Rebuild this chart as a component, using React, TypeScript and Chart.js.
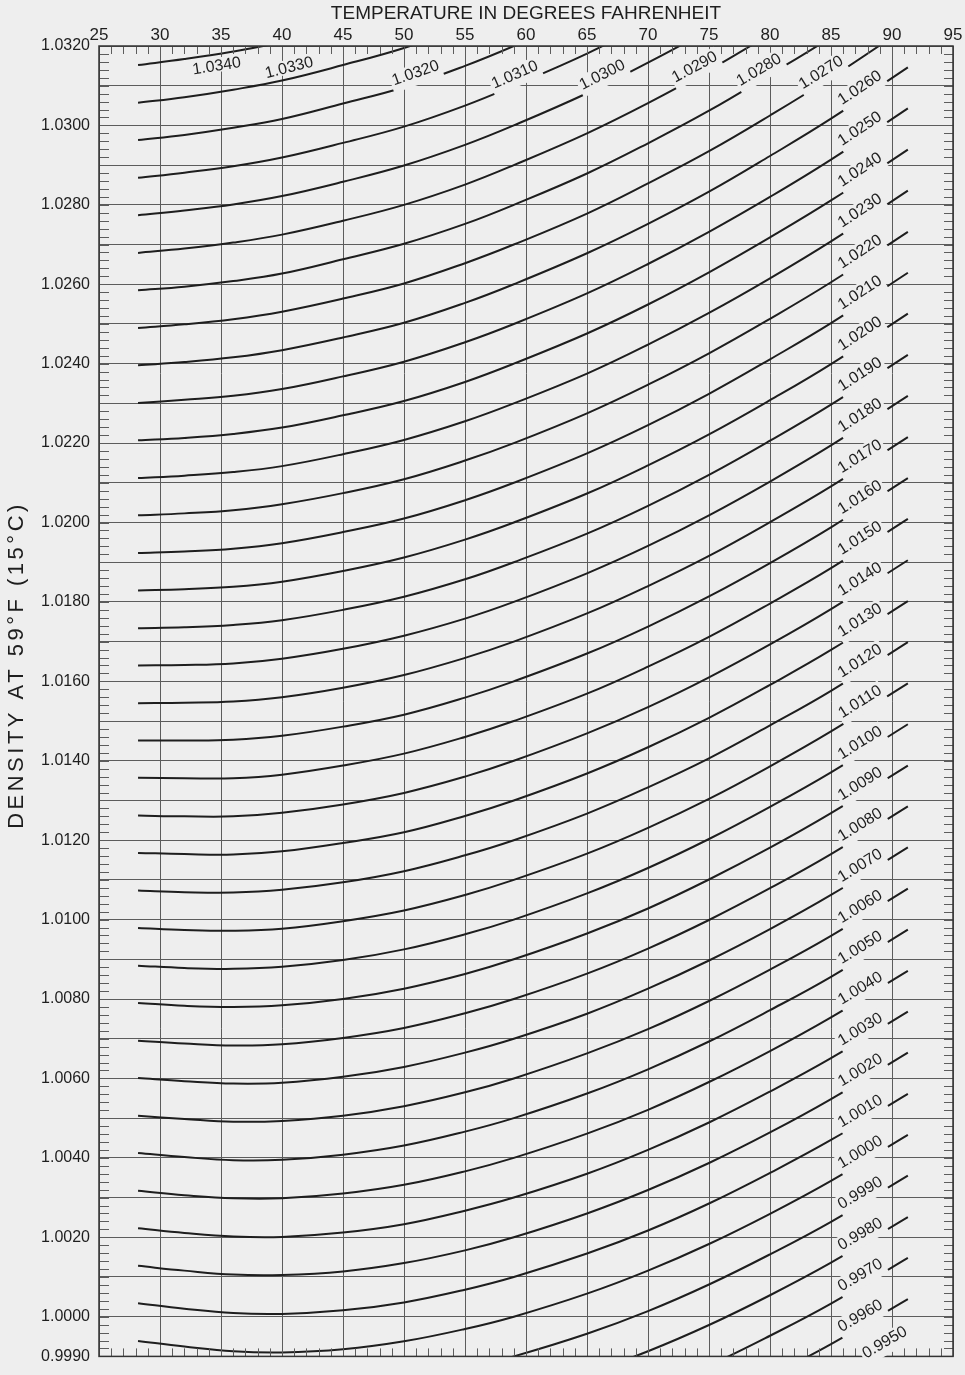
import React, { useEffect, useRef } from 'react';
import { Chart, registerables } from 'chart.js';

Chart.register(...registerables);

const FONT = '"Liberation Sans", Arial, Helvetica, sans-serif';
const PAPER = '#eeeeee';
const INK = '#1e1e1e';
const GRID = '#5c5c5c';

// Temperatures (°F) at which each curve was read
const temperatures = [28.2, 32, 36, 40, 45, 50, 55, 59, 65, 70, 75, 80, 85, 91.3];

// Curve labels (observed hydrometer reading)
const readings = [
  '1.0340', '1.0330', '1.0320', '1.0310', '1.0300', '1.0290', '1.0280', '1.0270',
  '1.0260', '1.0250', '1.0240', '1.0230', '1.0220', '1.0210', '1.0200', '1.0190',
  '1.0180', '1.0170', '1.0160', '1.0150', '1.0140', '1.0130', '1.0120', '1.0110',
  '1.0100', '1.0090', '1.0080', '1.0070', '1.0060', '1.0050', '1.0040', '1.0030',
  '1.0020', '1.0010', '1.0000', '0.9990', '0.9980', '0.9970', '0.9960', '0.9950',
];

// Density at 59°F, one row per reading, one column per temperature
const densityCurves = [
  [1.03152, 1.03167, 1.03186, 1.03210, 1.03250, 1.03293, 1.03349, 1.03400, 1.03484, 1.03563, 1.03649, 1.03742, 1.03840, 1.03973],
  [1.03057, 1.03071, 1.03090, 1.03113, 1.03152, 1.03195, 1.03249, 1.03300, 1.03383, 1.03462, 1.03547, 1.03640, 1.03737, 1.03870],
  [1.02963, 1.02976, 1.02994, 1.03016, 1.03055, 1.03096, 1.03150, 1.03200, 1.03282, 1.03360, 1.03445, 1.03537, 1.03634, 1.03766],
  [1.02868, 1.02881, 1.02897, 1.02919, 1.02956, 1.02997, 1.03050, 1.03100, 1.03181, 1.03259, 1.03343, 1.03435, 1.03531, 1.03663],
  [1.02774, 1.02786, 1.02801, 1.02822, 1.02858, 1.02899, 1.02951, 1.03000, 1.03081, 1.03158, 1.03241, 1.03332, 1.03428, 1.03559],
  [1.02679, 1.02690, 1.02705, 1.02725, 1.02760, 1.02800, 1.02851, 1.02900, 1.02980, 1.03056, 1.03139, 1.03230, 1.03325, 1.03456],
  [1.02585, 1.02594, 1.02608, 1.02627, 1.02663, 1.02702, 1.02752, 1.02800, 1.02879, 1.02955, 1.03037, 1.03128, 1.03222, 1.03353],
  [1.02490, 1.02499, 1.02512, 1.02531, 1.02564, 1.02602, 1.02653, 1.02700, 1.02778, 1.02854, 1.02935, 1.03025, 1.03120, 1.03249],
  [1.02396, 1.02404, 1.02416, 1.02434, 1.02466, 1.02503, 1.02553, 1.02600, 1.02678, 1.02752, 1.02833, 1.02923, 1.03017, 1.03146],
  [1.02301, 1.02309, 1.02319, 1.02336, 1.02368, 1.02405, 1.02454, 1.02500, 1.02577, 1.02651, 1.02732, 1.02820, 1.02914, 1.03043],
  [1.02207, 1.02213, 1.02223, 1.02239, 1.02270, 1.02306, 1.02354, 1.02400, 1.02476, 1.02549, 1.02630, 1.02718, 1.02811, 1.02939],
  [1.02112, 1.02118, 1.02127, 1.02142, 1.02172, 1.02208, 1.02255, 1.02300, 1.02375, 1.02448, 1.02528, 1.02615, 1.02708, 1.02836],
  [1.02018, 1.02023, 1.02031, 1.02046, 1.02074, 1.02109, 1.02156, 1.02200, 1.02275, 1.02347, 1.02426, 1.02513, 1.02605, 1.02732],
  [1.01923, 1.01927, 1.01934, 1.01948, 1.01976, 1.02010, 1.02056, 1.02100, 1.02174, 1.02245, 1.02324, 1.02411, 1.02502, 1.02629],
  [1.01829, 1.01832, 1.01838, 1.01851, 1.01878, 1.01912, 1.01957, 1.02000, 1.02073, 1.02144, 1.02222, 1.02308, 1.02399, 1.02526],
  [1.01734, 1.01736, 1.01742, 1.01754, 1.01780, 1.01813, 1.01857, 1.01900, 1.01972, 1.02042, 1.02120, 1.02206, 1.02297, 1.02422],
  [1.01640, 1.01641, 1.01645, 1.01657, 1.01682, 1.01715, 1.01758, 1.01800, 1.01872, 1.01941, 1.02018, 1.02103, 1.02194, 1.02319],
  [1.01545, 1.01546, 1.01549, 1.01560, 1.01584, 1.01616, 1.01659, 1.01700, 1.01771, 1.01840, 1.01916, 1.02001, 1.02091, 1.02215],
  [1.01451, 1.01451, 1.01453, 1.01463, 1.01486, 1.01516, 1.01559, 1.01600, 1.01670, 1.01738, 1.01814, 1.01898, 1.01988, 1.02112],
  [1.01357, 1.01356, 1.01356, 1.01365, 1.01388, 1.01418, 1.01460, 1.01500, 1.01569, 1.01637, 1.01712, 1.01796, 1.01885, 1.02009],
  [1.01262, 1.01260, 1.01260, 1.01269, 1.01290, 1.01319, 1.01360, 1.01400, 1.01469, 1.01535, 1.01610, 1.01693, 1.01782, 1.01905],
  [1.01168, 1.01165, 1.01164, 1.01172, 1.01193, 1.01220, 1.01261, 1.01300, 1.01368, 1.01434, 1.01508, 1.01591, 1.01679, 1.01802],
  [1.01073, 1.01069, 1.01068, 1.01075, 1.01094, 1.01122, 1.01162, 1.01200, 1.01267, 1.01333, 1.01406, 1.01489, 1.01576, 1.01699],
  [1.00979, 1.00974, 1.00972, 1.00977, 1.00996, 1.01023, 1.01062, 1.01100, 1.01166, 1.01231, 1.01304, 1.01386, 1.01474, 1.01595],
  [1.00884, 1.00878, 1.00876, 1.00881, 1.00898, 1.00925, 1.00963, 1.01000, 1.01066, 1.01130, 1.01203, 1.01284, 1.01371, 1.01492],
  [1.00790, 1.00783, 1.00780, 1.00784, 1.00800, 1.00826, 1.00863, 1.00900, 1.00965, 1.01028, 1.01101, 1.01181, 1.01268, 1.01388],
  [1.00695, 1.00688, 1.00683, 1.00686, 1.00702, 1.00727, 1.00764, 1.00800, 1.00864, 1.00927, 1.00999, 1.01079, 1.01165, 1.01285],
  [1.00601, 1.00593, 1.00587, 1.00589, 1.00604, 1.00629, 1.00665, 1.00700, 1.00763, 1.00826, 1.00897, 1.00976, 1.01062, 1.01182],
  [1.00506, 1.00498, 1.00491, 1.00493, 1.00506, 1.00530, 1.00565, 1.00600, 1.00663, 1.00724, 1.00795, 1.00874, 1.00959, 1.01078],
  [1.00412, 1.00402, 1.00394, 1.00395, 1.00408, 1.00431, 1.00466, 1.00500, 1.00562, 1.00623, 1.00693, 1.00772, 1.00856, 1.00975],
  [1.00317, 1.00306, 1.00298, 1.00298, 1.00310, 1.00332, 1.00366, 1.00400, 1.00461, 1.00521, 1.00591, 1.00669, 1.00754, 1.00871],
  [1.00223, 1.00211, 1.00202, 1.00201, 1.00212, 1.00233, 1.00267, 1.00300, 1.00360, 1.00420, 1.00489, 1.00567, 1.00651, 1.00768],
  [1.00128, 1.00116, 1.00106, 1.00105, 1.00114, 1.00135, 1.00167, 1.00200, 1.00260, 1.00319, 1.00387, 1.00464, 1.00548, 1.00665],
  [1.00034, 1.00020, 1.00009, 1.00007, 1.00016, 1.00036, 1.00068, 1.00100, 1.00159, 1.00217, 1.00285, 1.00362, 1.00445, 1.00561],
  [0.99939, 0.99925, 0.99913, 0.99910, 0.99918, 0.99938, 0.99969, 1.00000, 1.00058, 1.00116, 1.00183, 1.00259, 1.00342, 1.00458],
  [0.99845, 0.99830, 0.99817, 0.99813, 0.99820, 0.99839, 0.99869, 0.99900, 0.99957, 1.00014, 1.00081, 1.00157, 1.00239, 1.00355],
  [0.99750, 0.99735, 0.99721, 0.99716, 0.99722, 0.99740, 0.99770, 0.99800, 0.99857, 0.99913, 0.99979, 1.00054, 1.00136, 1.00251],
  [0.99656, 0.99640, 0.99625, 0.99620, 0.99625, 0.99642, 0.99670, 0.99700, 0.99756, 0.99812, 0.99877, 0.99952, 1.00033, 1.00148],
  [0.99561, 0.99544, 0.99529, 0.99523, 0.99527, 0.99543, 0.99571, 0.99600, 0.99655, 0.99710, 0.99775, 0.99850, 0.99931, 1.00044],
  [0.99467, 0.99449, 0.99433, 0.99426, 0.99429, 0.99445, 0.99472, 0.99500, 0.99554, 0.99609, 0.99674, 0.99747, 0.99828, 0.99941],
];

// Temperature (°F) at which each curve's label sits
const labelTemps = [
  34.5, 40.8, 51.2, 59.4, 66.6, 74.2, 79.5, 84.6,
  87.8, 87.8, 87.8, 87.8, 87.8, 87.8, 87.8, 87.8,
  87.8, 87.8, 87.8, 87.8, 87.8, 87.8, 87.8, 87.8,
  87.8, 87.8, 87.8, 87.8, 87.8, 87.8, 87.8, 87.8,
  87.8, 87.8, 87.8, 87.8, 87.8, 87.8, 87.8, 89.8,
];
// 'below': under the curve; 'beside': above without breaking the curve; others break the curve
const labelPlacement = ['below', 'beside'];

const yTickValues = [
  0.999, 1.000, 1.001, 1.002, 1.003, 1.004, 1.005, 1.006, 1.007, 1.008, 1.009,
  1.010, 1.011, 1.012, 1.013, 1.014, 1.015, 1.016, 1.017, 1.018, 1.019,
  1.020, 1.021, 1.022, 1.023, 1.024, 1.025, 1.026, 1.027, 1.028, 1.029,
  1.030, 1.031, 1.032,
];
const yLabelValues = [
  0.999, 1.000, 1.002, 1.004, 1.006, 1.008, 1.010, 1.012, 1.014, 1.016,
  1.018, 1.020, 1.022, 1.024, 1.026, 1.028, 1.030, 1.032,
];

const Y_TITLE = 'DENSITY AT 59°F (15°C)';

const decorPlugin = {
  id: 'decor',
  beforeDraw(chart: any) {
    const { ctx, width, height } = chart;
    ctx.save();
    ctx.fillStyle = PAPER;
    ctx.fillRect(0, 0, width, height);
    ctx.restore();
  },
  afterDatasetsDraw(chart: any) {
    const { ctx, chartArea: a } = chart;
    const xs = chart.scales.x;
    const ys = chart.scales.y;
    ctx.save();
    // minor tick marks on the frame
    ctx.strokeStyle = GRID;
    ctx.lineWidth = 1;
    ctx.beginPath();
    for (let t = 25; t <= 95; t++) {
      const px = Math.round(xs.getPixelForValue(t)) + 0.5;
      ctx.moveTo(px, a.top);
      ctx.lineTo(px, a.top + 8);
      ctx.moveTo(px, a.bottom);
      ctx.lineTo(px, a.bottom - 8);
    }
    for (let k = 0; k <= 165; k++) {
      const py = Math.round(ys.getPixelForValue(0.999 + k * 0.0002)) + 0.5;
      ctx.moveTo(a.left, py);
      ctx.lineTo(a.left + 10, py);
      ctx.moveTo(a.right, py);
      ctx.lineTo(a.right - 9, py);
    }
    ctx.stroke();
    ctx.strokeStyle = '#333';
    ctx.lineWidth = 1.5;
    ctx.strokeRect(a.left, a.top, a.right - a.left, a.bottom - a.top);

    // curve labels
    ctx.font = `16px ${FONT}`;
    const cap = 11.5;
    const n = temperatures.length;
    densityCurves.forEach((row, i) => {
      const t = labelTemps[i];
      let k = 0;
      while (k < n - 2 && temperatures[k + 1] <= t) k++;
      const f = (t - temperatures[k]) / (temperatures[k + 1] - temperatures[k]);
      const v = row[k] + f * (row[k + 1] - row[k]);
      const px = xs.getPixelForValue(t);
      const py = ys.getPixelForValue(v);
      const dx = xs.getPixelForValue(temperatures[k + 1]) - xs.getPixelForValue(temperatures[k]);
      const dy = ys.getPixelForValue(row[k + 1]) - ys.getPixelForValue(row[k]);
      const ang = Math.atan2(dy, dx);
      const text = readings[i];
      const w = ctx.measureText(text).width;
      const place = labelPlacement[i] || 'inline';
      ctx.save();
      ctx.translate(px, py);
      ctx.rotate(ang);
      ctx.fillStyle = PAPER;
      let base: number;
      if (place === 'below') {
        base = 16.5;
        ctx.fillRect(-w / 2 - 1, base - cap - 1.5, w + 2, cap + 3);
      } else if (place === 'beside') {
        base = -6;
        ctx.fillRect(-w / 2 - 1, base - cap - 1.5, w + 2, cap + 3);
      } else {
        base = -5;
        ctx.fillRect(-w / 2 - 2, base - cap - 2, w + 4, -base + cap + 4.5);
      }
      ctx.fillStyle = INK;
      ctx.textAlign = 'center';
      ctx.textBaseline = 'alphabetic';
      ctx.fillText(text, 0, base);
      ctx.restore();
    });
    ctx.restore();
  },
  afterDraw(chart: any) {
    const { ctx } = chart;
    ctx.save();
    ctx.translate(17, 665);
    ctx.rotate(-Math.PI / 2);
    ctx.font = `22px ${FONT}`;
    (ctx as any).letterSpacing = '3.5px';
    ctx.fillStyle = INK;
    ctx.textAlign = 'center';
    ctx.textBaseline = 'middle';
    ctx.fillText(Y_TITLE, 0, 0);
    ctx.restore();
  },
};

export default function App() {
  const ref = useRef<HTMLCanvasElement>(null);

  useEffect(() => {
    const canvas = ref.current;
    if (!canvas) return;
    Chart.defaults.font.family = FONT;
    const datasets = densityCurves.map((row, i) => ({
      label: readings[i],
      data: temperatures.map((t, j) => ({ x: t, y: row[j] })),
      borderColor: INK,
      borderWidth: 2,
      pointRadius: 0,
      fill: false,
      tension: 0.4,
      cubicInterpolationMode: 'default' as const,
      clip: 0,
    }));
    const chart = new Chart(canvas, {
      type: 'line',
      data: { datasets },
      options: {
        responsive: false,
        animation: false,
        devicePixelRatio: 1,
        layout: { padding: { left: 0, top: 0, right: 12, bottom: 7 } },
        plugins: { legend: { display: false }, tooltip: { enabled: false } },
        scales: {
          x: {
            type: 'linear',
            position: 'top',
            min: 25,
            max: 95,
            afterFit: (s: any) => { s.height = 46; },
            ticks: { stepSize: 5, padding: 0, autoSkip: false, maxRotation: 0, color: INK, font: { size: 17, family: FONT } },
            grid: { color: GRID, lineWidth: 1, drawTicks: false },
            border: { display: false },
            title: {
              display: true,
              text: 'TEMPERATURE IN DEGREES FAHRENHEIT',
              color: INK,
              font: { size: 19, family: FONT },
              padding: { top: 2, bottom: 0 },
            },
          },
          y: {
            type: 'linear',
            min: 0.999,
            max: 1.032,
            afterFit: (s: any) => { s.width = 99; },
            afterBuildTicks: (axis: any) => { axis.ticks = yTickValues.map((value) => ({ value })); },
            ticks: {
              autoSkip: false,
              padding: 9,
              color: INK,
              font: { size: 16, family: FONT },
              callback: (value: any) => {
                const num = Number(value);
                return yLabelValues.some((l) => Math.abs(l - num) < 1e-7) ? num.toFixed(4) : '';
              },
            },
            grid: { color: GRID, lineWidth: 1, drawTicks: false },
            border: { display: false },
            title: { display: false, text: Y_TITLE },
          },
        },
      },
      plugins: [decorPlugin],
    } as any);
    return () => chart.destroy();
  }, []);

  return (
    <div style={{ position: 'absolute', left: 0, top: 0, width: 965, height: 1375, background: PAPER, overflow: 'hidden' }}>
      <canvas ref={ref} width={965} height={1375} style={{ display: 'block', width: 965, height: 1375 }} />
    </div>
  );
}
